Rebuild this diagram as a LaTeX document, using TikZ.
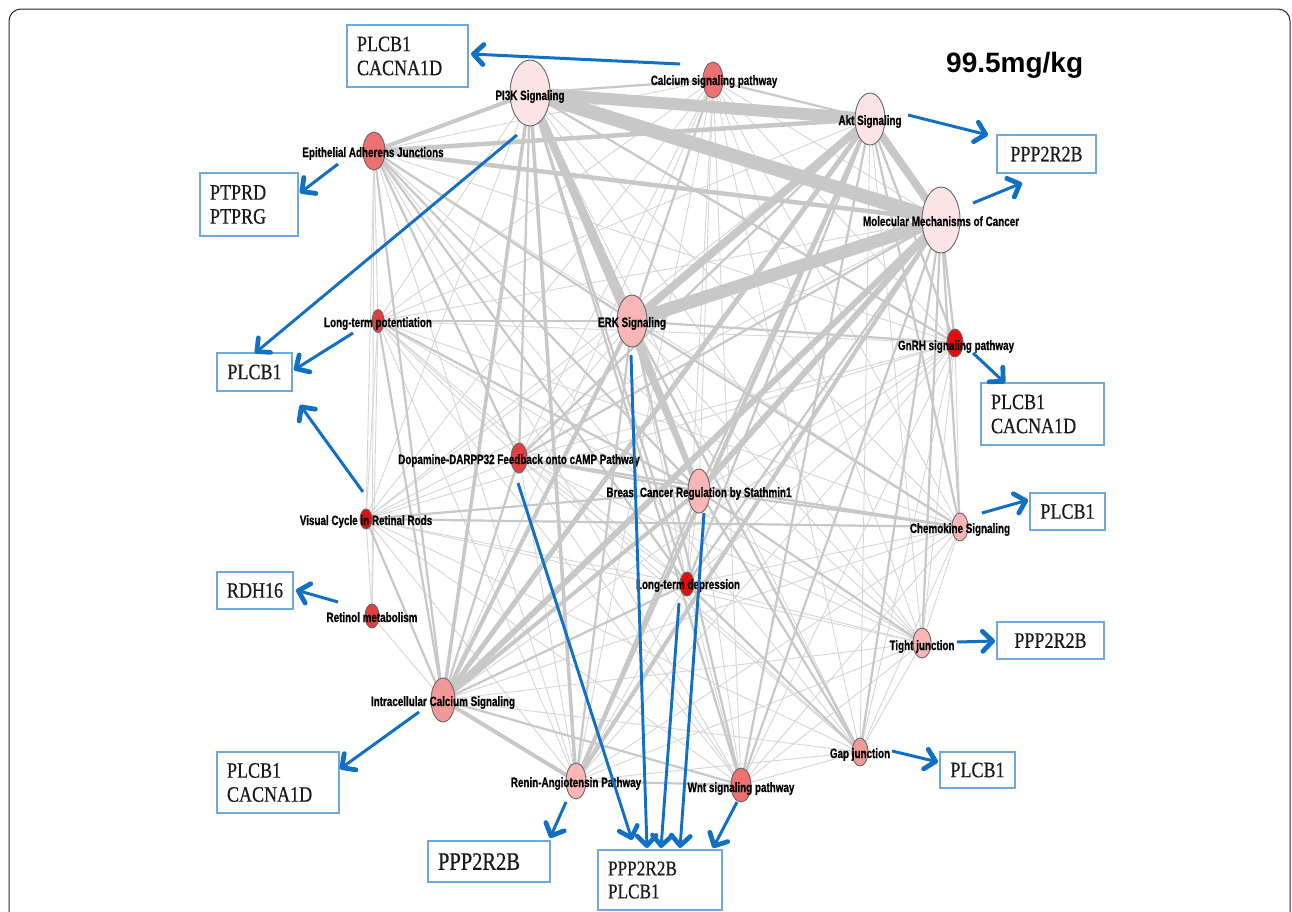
\documentclass[tikz,border=0pt]{standalone}
\usepackage{fontspec}
\setmainfont{Liberation Serif}
\newfontfamily\lblfont[FakeStretch=0.73,FakeBold=0.6]{Liberation Sans}
\newfontfamily\boxfont[FakeStretch=0.82,FakeBold=0.5]{Liberation Serif}
\newfontfamily\ttlfont{Liberation Sans}
\usetikzlibrary{arrows.meta,shapes.geometric}
\definecolor{arrowblue}{RGB}{18,112,196}
\definecolor{boxblue}{RGB}{110,168,222}
\definecolor{edgegray}{RGB}{200,200,200}
\definecolor{thingray}{RGB}{214,214,214}
\definecolor{pkA}{RGB}{253,228,228}
\definecolor{pkB}{RGB}{248,182,182}
\definecolor{pkC}{RGB}{243,152,152}
\definecolor{slm}{RGB}{238,112,112}
\definecolor{rdA}{RGB}{225,64,64}
\definecolor{rdB}{RGB}{228,12,12}
\begin{document}
\begin{tikzpicture}[x=1pt,y=-1pt,
 thinedge/.style={draw=thingray,line width=0.9pt},
 midedge/.style={draw=edgegray,line width=2.2pt},
 bigedge/.style={draw=edgegray,line width=#1},
 pw/.style={ellipse,draw=black!60,line width=0.9pt,inner sep=0pt},
 lbl/.style={font=\lblfont\bfseries\fontsize{13.5}{15}\selectfont,text=black,inner sep=0pt,anchor=base},
 gbox/.style={draw=boxblue,line width=1.6pt,fill=white,inner sep=0pt,font=\boxfont\fontsize{22}{24}\selectfont,text=black!90},
 barrow/.style={draw=arrowblue,line width=3pt,-{Straight Barb[length=10pt,width=20pt,line width=0pt 1.6,round]}},
 larrow/.style={draw=arrowblue,line width=2.9pt,-{Straight Barb[length=10pt,width=19pt,line width=0pt 1.6,round]}},
]
\useasboundingbox (0,0) rectangle (1292,911);
\fill[white] (0,0) rectangle (1292,911);
% frame
\draw[line width=1pt,black!85,rounded corners=12pt] (9,980) -- (9,9) -- (1290,9) -- (1290,980);

% centres
\coordinate (pik) at (530,93);
\coordinate (cal) at (713,80);
\coordinate (akt) at (870,119);
\coordinate (mol) at (941,220);
\coordinate (epi) at (374,151);
\coordinate (ltp) at (378,321);
\coordinate (erk) at (632,321);
\coordinate (gnrh) at (955,343);
\coordinate (dop) at (519,458);
\coordinate (bcr) at (699,491);
\coordinate (vis) at (366,519);
\coordinate (che) at (960,527);
\coordinate (ltd) at (687,584);
\coordinate (ret) at (372,616);
\coordinate (tig) at (922,643);
\coordinate (ics) at (443,700);
\coordinate (gap) at (860,752);
\coordinate (ren) at (576,781);
\coordinate (wnt) at (741,785);

% thin edges (all pairs)
\foreach [count=\i] \a in {pik,cal,akt,mol,epi,ltp,erk,gnrh,dop,bcr,vis,che,ltd,tig,ics,gap,ren,wnt}{
  \foreach [count=\j] \b in {pik,cal,akt,mol,epi,ltp,erk,gnrh,dop,bcr,vis,che,ltd,tig,ics,gap,ren,wnt}{
    \ifnum\j>\i \draw[thinedge] (\a) -- (\b); \fi
  }
}
\foreach \b in {vis,ics,ltp,epi} \draw[thinedge] (ret) -- (\b);

% medium edges
\foreach \a/\b in {erk/gnrh,ltp/erk,cal/pik,cal/akt,cal/erk,akt/gnrh,akt/che,akt/bcr,akt/dop,
  mol/gnrh,mol/che,mol/tig,mol/ltd,mol/dop,mol/gap,mol/wnt,erk/ren,erk/wnt,erk/gap,bcr/ren,
  bcr/dop,bcr/gap,bcr/tig,bcr/che,erk/che,ltd/ics,ltd/gap,dop/che,dop/ics,ics/vis,vis/bcr,
  vis/che,ltp/bcr,ltp/ics,epi/bcr,epi/ltd,epi/dop,epi/erk,epi/ics,pik/dop,pik/ltd,pik/wnt,
  pik/gnrh,akt/wnt,akt/ltd,ren/wnt,ics/wnt}
  \draw[midedge] (\a) -- (\b);

% heavy edges
\foreach \a/\b/\w in {pik/ren/3.5,pik/ics/3.5,erk/ics/4,mol/ren/4,akt/ren/4,bcr/ics/4,ics/ren/4,
  erk/bcr/5,pik/bcr/5,epi/pik/4,epi/mol/4.5,epi/akt/4.5,akt/ics/5,mol/ics/6,mol/bcr/6,
  pik/erk/8,erk/akt/8,akt/mol/8,erk/mol/13,pik/mol/14,pik/akt/12}
  \draw[bigedge=\w pt] (\a) -- (\b);

% pathway ellipses
\node[pw,fill=pkA,minimum width=40pt,minimum height=66pt] (e-pik) at (pik) {};
\node[pw,fill=slm,minimum width=20pt,minimum height=36pt] (e-cal) at (cal) {};
\node[pw,fill=pkA,minimum width=30pt,minimum height=52pt] (e-akt) at (akt) {};
\node[pw,fill=pkA,minimum width=38pt,minimum height=66pt] (e-mol) at (mol) {};
\node[pw,fill=slm,minimum width=22pt,minimum height=38pt] (e-epi) at (epi) {};
\node[pw,fill=rdA,minimum width=12pt,minimum height=23pt] (e-ltp) at (ltp) {};
\node[pw,fill=pkB,minimum width=30pt,minimum height=52pt] (e-erk) at (erk) {};
\node[pw,fill=rdB,minimum width=16pt,minimum height=28pt] (e-gnrh) at (gnrh) {};
\node[pw,fill=rdA,minimum width=16pt,minimum height=30pt] (e-dop) at (dop) {};
\node[pw,fill=pkB,minimum width=22pt,minimum height=44pt] (e-bcr) at (bcr) {};
\node[pw,fill=rdB,minimum width=12pt,minimum height=20pt] (e-vis) at (vis) {};
\node[pw,fill=pkB,minimum width=16pt,minimum height=28pt] (e-che) at (che) {};
\node[pw,fill=rdB,minimum width=14pt,minimum height=24pt] (e-ltd) at (ltd) {};
\node[pw,fill=rdA,minimum width=14pt,minimum height=24pt] (e-ret) at (ret) {};
\node[pw,fill=pkB,minimum width=18pt,minimum height=30pt] (e-tig) at (tig) {};
\node[pw,fill=pkC,minimum width=24pt,minimum height=44pt] (e-ics) at (ics) {};
\node[pw,fill=pkC,minimum width=16pt,minimum height=28pt] (e-gap) at (gap) {};
\node[pw,fill=pkB,minimum width=20pt,minimum height=36pt] (e-ren) at (ren) {};
\node[pw,fill=slm,minimum width=20pt,minimum height=34pt] (e-wnt) at (wnt) {};

% labels
\node[lbl] (l-pik) at (530,100) {PI3K Signaling};
\node[lbl] (l-cal) at (714,85) {Calcium signaling pathway};
\node[lbl] (l-akt) at (870,125) {Akt Signaling};
\node[lbl] (l-mol) at (941,226) {Molecular Mechanisms of Cancer};
\node[lbl] (l-epi) at (373,157) {Epithelial Adherens Junctions};
\node[lbl] (l-ltp) at (378,327) {Long-term potentiation};
\node[lbl] (l-erk) at (632,327) {ERK Signaling};
\node[lbl] (l-gnrh) at (956,350) {GnRH signaling pathway};
\node[lbl] (l-dop) at (519,464) {Dopamine-DARPP32 Feedback onto cAMP Pathway};
\node[lbl] (l-bcr) at (699,497) {Breast Cancer Regulation by Stathmin1};
\node[lbl] (l-vis) at (366,525) {Visual Cycle in Retinal Rods};
\node[lbl] (l-che) at (960,533) {Chemokine Signaling};
\node[lbl] (l-ltd) at (688,589) {Long-term depression};
\node[lbl] (l-ret) at (372,622) {Retinol metabolism};
\node[lbl] (l-tig) at (922,650) {Tight junction};
\node[lbl] (l-ics) at (443,706) {Intracellular Calcium Signaling};
\node[lbl] (l-gap) at (860,758) {Gap junction};
\node[lbl] (l-ren) at (576,787) {Renin-Angiotensin Pathway};
\node[lbl] (l-wnt) at (741,792) {Wnt signaling pathway};

% gene boxes
\node[gbox,minimum width=121pt,minimum height=62pt,text width=101pt,align=left] (b1) at (407.5,56) {PLCB1\\CACNA1D};
\node[gbox,minimum width=98pt,minimum height=63pt,text width=78pt,align=left] (b2) at (249,204.5) {PTPRD\\PTPRG};
\node[gbox,minimum width=99pt,minimum height=38pt] (b3) at (1046.5,154) {PPP2R2B};
\node[gbox,minimum width=75pt,minimum height=38pt] (b4) at (254.5,372) {PLCB1};
\node[gbox,minimum width=123pt,minimum height=62pt,text width=103pt,align=left] (b5) at (1042.5,414) {PLCB1\\CACNA1D};
\node[gbox,minimum width=75pt,minimum height=37pt] (b6) at (1067.5,511.5) {PLCB1};
\node[gbox,minimum width=76pt,minimum height=37pt] (b7) at (255,590.5) {RDH16};
\node[gbox,minimum width=107pt,minimum height=37pt] (b8) at (1050.5,640.5) {PPP2R2B};
\node[gbox,minimum width=122pt,minimum height=61pt,text width=102pt,align=left] (b9) at (278,782.5) {PLCB1\\CACNA1D};
\node[gbox,minimum width=75pt,minimum height=36pt] (b10) at (977.5,770) {PLCB1};
\node[gbox,minimum width=122pt,minimum height=41pt,text width=102pt,align=left,font=\boxfont\fontsize{25}{27}\selectfont] (b11) at (489,861.5) {PPP2R2B};
\node[gbox,minimum width=124pt,minimum height=60pt,text width=104pt,align=left,font=\boxfont\fontsize{21}{23}\selectfont] (b12) at (660,880) {PPP2R2B\\PLCB1};

% arrow end points
\coordinate (t1) at (680,64);   \coordinate (h1) at (471,54);
\coordinate (t2) at (908,115);  \coordinate (h2) at (988,135);
\coordinate (t3) at (973,203);  \coordinate (h3) at (1022,183);
\coordinate (t4) at (338,164);  \coordinate (h4) at (300,193);
\coordinate (t5) at (517,135);  \coordinate (h5) at (255,353);
\coordinate (t6) at (353,333);  \coordinate (h6) at (294,370);
\coordinate (t7) at (363,492);  \coordinate (h7) at (300,405);
\coordinate (t8) at (973,353);  \coordinate (h8) at (1005,383);
\coordinate (t9) at (982,513);  \coordinate (h9) at (1028,500);
\coordinate (t10) at (338,602); \coordinate (h10) at (296,590);
\coordinate (t11) at (957,642); \coordinate (h11) at (995,641);
\coordinate (t12) at (419,712); \coordinate (h12) at (340,769);
\coordinate (t13) at (892,751); \coordinate (h13) at (938,762);
\coordinate (t14) at (566,802); \coordinate (h14) at (550,838);
\coordinate (t15) at (518,483); \coordinate (h15) at (632,840);
\coordinate (t16) at (631,355); \coordinate (h16) at (647,848);
\coordinate (t17) at (679,603); \coordinate (h17) at (661,848);
\coordinate (t18) at (704,513); \coordinate (h18) at (680,848);
\coordinate (t19) at (737,802); \coordinate (h19) at (713,848);

\foreach \k in {1,2,3,4,6,7,8,9,10,11,12,13,14,19} \draw[barrow] (t\k) -- (h\k);
\foreach \k in {5,15,16,17,18} \draw[larrow] (t\k) -- (h\k);

% title
\node[anchor=base west,inner sep=0pt,font=\ttlfont\bfseries\fontsize{28}{30}\selectfont] (ttl) at (946,72) {99.5mg/kg};
\end{tikzpicture}
\end{document}
